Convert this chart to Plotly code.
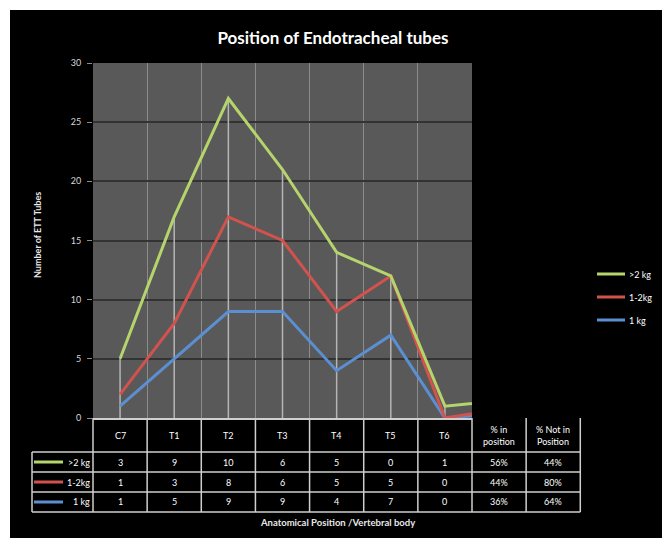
import numpy as np
import plotly.graph_objects as go

# ---------------- data ----------------
categories = ["C7", "T1", "T2", "T3", "T4", "T5", "T6"]
pct_headers = ["% in position", "% Not in Position"]
pct_header_text = ["% in<br>position", "% Not in<br>Position"]
series_names = [">2 kg", "1-2kg", "1 kg"]
over2kg = [3, 9, 10, 6, 5, 0, 1]
kg1to2 = [1, 3, 8, 6, 5, 5, 0]
kg1 = [1, 5, 9, 9, 4, 7, 0]
pct_in = [56, 44, 36]      # % in position   (>2 kg, 1-2kg, 1 kg)
pct_not = [44, 80, 64]     # % not in position
y_ticks = [0, 5, 10, 15, 20, 25, 30]

colors = {">2 kg": "#b6d46c", "1-2kg": "#d2524e", "1 kg": "#5b8fd2"}

# rows of the table, each series extended with the two % columns (as fractions)
rows = {
    ">2 kg": over2kg + [pct_in[0] / 100, pct_not[0] / 100],
    "1-2kg": kg1to2 + [pct_in[1] / 100, pct_not[1] / 100],
    "1 kg": kg1 + [pct_in[2] / 100, pct_not[2] / 100],
}
row_text = {
    ">2 kg": [str(v) for v in over2kg] + [f"{pct_in[0]}%", f"{pct_not[0]}%"],
    "1-2kg": [str(v) for v in kg1to2] + [f"{pct_in[1]}%", f"{pct_not[1]}%"],
    "1 kg": [str(v) for v in kg1] + [f"{pct_in[2]}%", f"{pct_not[2]}%"],
}
all_cats = categories + pct_headers

# stacked line values
blue = np.array(rows["1 kg"])
red = blue + np.array(rows["1-2kg"])
green = red + np.array(rows[">2 kg"])
stacked = {"1 kg": blue, "1-2kg": red, ">2 kg": green}

# ---------------- geometry helpers (reference pixel coords) ----------------
OFF = 10                      # white page border on left / top
W, H = 662 - OFF, 538 - OFF   # figure size
PL, PR, PT, PB = 93, 472, 63, 418   # plot area in page pixels
L, T = PL - OFF, PT - OFF
R, B = W - (PR - OFF), H - (PB - OFF)
PW, PH = PR - PL, PB - PT


def px(x):
    return (x - PL) / PW


def py(y):
    return (PB - y) / PH


FONT = "Lato, 'Open Sans', sans-serif"
fig = go.Figure()

# drop lines from the top series down to zero
dx, dy = [], []
for i, c in enumerate(categories):
    dx += [c, c, None]
    dy += [green[i], 0, None]
fig.add_trace(go.Scatter(x=dx, y=dy, mode="lines",
                         line=dict(color="#b5b5b5", width=1.5),
                         showlegend=False, hoverinfo="skip"))

for name in ["1 kg", "1-2kg", ">2 kg"]:
    fig.add_trace(go.Scatter(x=all_cats, y=stacked[name], mode="lines", name=name,
                             showlegend=False,
                             line=dict(color=colors[name], width=3)))

shapes = []
annotations = []

# ---------------- legend (drawn inside the figure) ----------------
LEG_Y = [274, 297, 320]
for name, yl in zip(series_names, LEG_Y):
    shapes.append(dict(type="line", xref="paper", yref="paper", x0=px(597), x1=px(625),
                       y0=py(yl), y1=py(yl), line=dict(color=colors[name], width=3)))
    annotations.append(dict(x=px(627), y=py(yl), xref="paper", yref="paper", text=name,
                            showarrow=False, xanchor="left", yanchor="middle",
                            font=dict(size=9, color="white", family=FONT)))

# ---------------- table ----------------
X0 = PL
colw = PW / len(categories)
LBL = 32
ROWY = [418, 452, 472, 492, 512]
lc = "#cfcfcf"
ncol = len(all_cats)
for k in range(ncol + 1):
    x = X0 + k * colw
    shapes.append(dict(type="line", xref="paper", yref="paper", x0=px(x), x1=px(x),
                       y0=py(ROWY[0]), y1=py(ROWY[-1]), line=dict(color=lc, width=1.5)))
shapes.append(dict(type="line", xref="paper", yref="paper", x0=px(LBL), x1=px(LBL),
                   y0=py(ROWY[1]), y1=py(ROWY[-1]), line=dict(color=lc, width=1.5)))
for yv in ROWY[1:]:
    shapes.append(dict(type="line", xref="paper", yref="paper", x0=px(LBL),
                       x1=px(X0 + ncol * colw), y0=py(yv), y1=py(yv),
                       line=dict(color=lc, width=1.5)))

# header row
for k, c in enumerate(all_cats):
    txt = c if k < len(categories) else pct_header_text[k - len(categories)]
    annotations.append(dict(x=px(X0 + (k + 0.5) * colw), y=py((ROWY[0] + ROWY[1]) / 2),
                            xref="paper", yref="paper", text=txt, showarrow=False,
                            font=dict(size=9, color="white", family=FONT),
                            xanchor="center", yanchor="middle"))
# data rows
for r, name in enumerate(series_names):
    yc = (ROWY[r + 1] + ROWY[r + 2]) / 2
    shapes.append(dict(type="line", xref="paper", yref="paper", x0=px(34), x1=px(63),
                       y0=py(yc), y1=py(yc), line=dict(color=colors[name], width=3)))
    annotations.append(dict(x=px(92), y=py(yc), xref="paper", yref="paper", text=name,
                            showarrow=False, xanchor="right", yanchor="middle",
                            font=dict(size=9, color="white", family=FONT)))
    for k, t in enumerate(row_text[name]):
        annotations.append(dict(x=px(X0 + (k + 0.5) * colw), y=py(yc), xref="paper",
                                yref="paper", text=t, showarrow=False,
                                xanchor="center", yanchor="middle",
                                font=dict(size=9, color="white", family=FONT)))

# axis titles
annotations.append(dict(x=px(337), y=py(522), xref="paper", yref="paper",
                        text="<b>Anatomical Position /Vertebral body</b>", showarrow=False,
                        xanchor="center", yanchor="middle",
                        font=dict(size=9.5, color="#e8e8e8", family=FONT)))
annotations.append(dict(x=px(37), y=py(235), xref="paper", yref="paper",
                        text="<b>Number of ETT Tubes</b>", showarrow=False, textangle=-90,
                        xanchor="center", yanchor="middle",
                        font=dict(size=9, color="#e8e8e8", family=FONT)))

fig.update_layout(
    width=W, height=H,
    margin=dict(l=L, r=R, t=T, b=B, pad=0),
    paper_bgcolor="black",
    plot_bgcolor="#595959",
    title=dict(text="Position of Endotracheal tubes", x=(333 - OFF) / W,
               y=1 - (38 - OFF) / H, xanchor="center", yanchor="middle",
               font=dict(size=17, color="white", family=FONT, weight="bold")),
    showlegend=False,
    shapes=shapes,
    annotations=annotations,
    xaxis=dict(type="category", categoryorder="array", categoryarray=all_cats,
               range=[-0.5, 6.5], showticklabels=False, tickson="boundaries",
               showgrid=True, gridcolor="#8c8c8c", gridwidth=1, ticks="",
               showline=True, linecolor="#cfcfcf", linewidth=1.5, zeroline=False,
               fixedrange=True),
    yaxis=dict(range=[0, 30], tickvals=y_ticks, showgrid=True, gridcolor="#333333",
               gridwidth=1.5, zeroline=False, ticks="outside", ticklen=5,
               tickcolor="#8c8c8c", tickfont=dict(size=9, color="#d8d8d8", family=FONT),
               ticklabelstandoff=4, showline=False, fixedrange=True),
)

fig.write_html(
    "out.html", config={"displayModeBar": False},
    post_script=("document.documentElement.style.background='black';"
                 "document.body.style.margin='0';"
                 "document.body.style.padding='%dpx 0 0 %dpx';"
                 "document.body.style.background='white';"
                 "document.body.style.overflow='hidden';") % (OFF, OFF))
